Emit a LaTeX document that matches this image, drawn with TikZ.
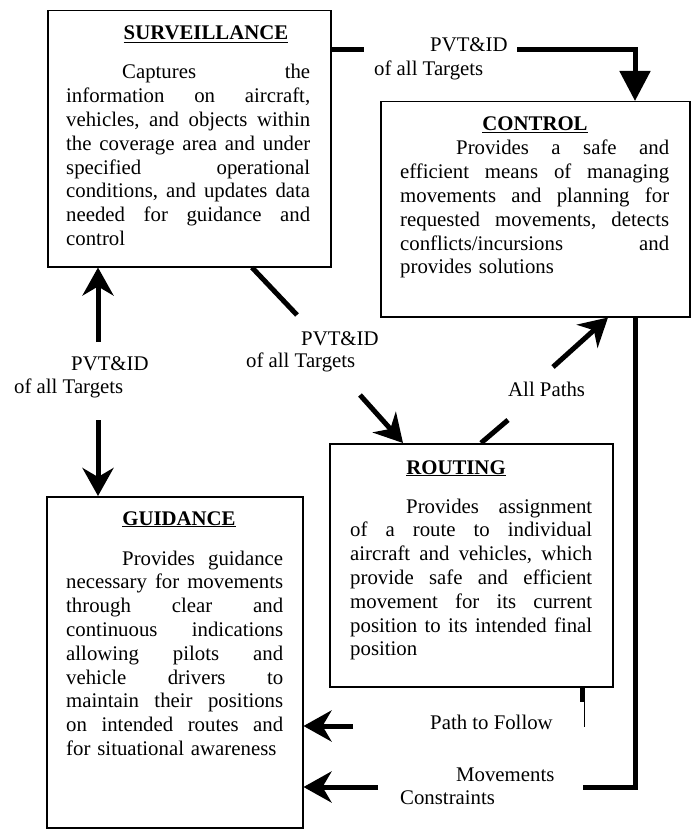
\documentclass[tikz,border=0pt]{standalone}
\usepackage{fontspec}
\setmainfont{Liberation Serif}
\usetikzlibrary{arrows.meta}
\newcommand\bodyfont{\fontsize{20.8}{23.8}\selectfont}
\newdimen\jw
\newcommand\jl[1]{\hbox to \jw{\frenchspacing\spaceskip=0.25em plus 1fil\relax #1}}
\newcommand\jlast[1]{\hbox to \jw{#1\hskip 0pt plus 1fill\relax}}
\newcommand\ind{\hskip56pt\relax}
\tikzset{
  box/.style={draw, line width=1.5pt, inner sep=0pt, anchor=north west},
  body/.style={inner sep=0pt, text width=#1, anchor=base west, font=\bodyfont,
    execute at begin node={\jw=#1\relax}},
  ttl/.style={inner sep=0pt, anchor=base, font=\bodyfont\bfseries},
  lbl/.style={inner sep=0pt, anchor=base west, font=\bodyfont},
  thickln/.style={line width=5pt},
  arr/.style={thickln, -{Stealth[length=28pt,width=31pt,inset=9pt]}},
  tri/.style={thickln, -{Triangle[length=30pt,width=30pt]}},
}
\begin{document}
\begin{tikzpicture}[x=1pt,y=-1pt]
\fill[white] (0,0) rectangle (690,829);
\useasboundingbox (0,0) rectangle (690,829);

% boxes
\node[box, minimum width=283pt, minimum height=256pt] (surv) at (47,10) {};
\node[box, minimum width=309pt, minimum height=215pt] (ctrl) at (380,101) {};
\node[box, minimum width=283pt, minimum height=243pt] (rout) at (329,443) {};
\node[box, minimum width=256pt, minimum height=331pt] (guid) at (46,496) {};

% titles
\node[ttl] (survT) at (206,40) {\underline{SURVEILLANCE}};
\node[ttl] (ctrlT) at (535,131) {\underline{CONTROL}};
\node[ttl] (routT) at (456,474) {\underline{ROUTING}};
\node[ttl] (guidT) at (179,525) {\underline{GUIDANCE}};

% bodies
\node[body=244pt] (survX) at (66,79) {%
\jl{\ind Captures the}
\jl{information on aircraft,}
\jl{vehicles, and objects within}
\jl{the coverage area and under}
\jl{specified operational}
\jl{conditions, and updates data}
\jl{needed for guidance and}
\jlast{control}};
\node[body=269pt] (ctrlX) at (400,155) {%
\jl{\ind Provides a safe and}
\jl{efficient means of managing}
\jl{movements and planning for}
\jl{requested movements, detects}
\jl{conflicts/incursions and}
\jlast{provides solutions}};
\node[body=242pt] (routX) at (350,513) {%
\jl{\ind Provides assignment}
\jl{of a route to individual}
\jl{aircraft and vehicles, which}
\jl{provide safe and efficient}
\jl{movement for its current}
\jl{position to its intended final}
\jlast{position}};
\node[body=217pt] (guidX) at (66,565) {%
\jl{\ind Provides guidance}
\jl{necessary for movements}
\jl{through clear and}
\jl{continuous indications}
\jl{allowing pilots and}
\jl{vehicle drivers to}
\jl{maintain their positions}
\jl{on intended routes and}
\jlast{for situational awareness}};

% connector coordinates
\coordinate (t1) at (364,50);
\coordinate (t2) at (517,50);
\coordinate (t3) at (635,50);
\coordinate (l1) at (98,342);
\coordinate (l2) at (98,420);
\coordinate (m0) at (252,0);
\coordinate (m1) at (297,315);
\coordinate (m2) at (360,395);
\coordinate (m3) at (403,0);
\coordinate (a0) at (481,0);
\coordinate (a1) at (508,420);
\coordinate (a2) at (553,367);
\coordinate (a3) at (608,0);
\coordinate (r0) at (635,787);
\coordinate (r1) at (583,787);
\coordinate (r2) at (378,787);
\coordinate (p0) at (584.5,727);
\coordinate (p1) at (353,726);

% connectors
\draw[thickln] (surv.east |- t1) -- (t1);
\draw[tri] (t2) -- (t3) -- (ctrl.north -| t3);
\draw[arr] (l1) -- (surv.south -| l1);
\draw[arr] (l2) -- (guid.north -| l2);
\draw[thickln] (surv.south -| m0) -- (m1);
\draw[arr] (m2) -- (rout.north -| m3);
\draw[thickln] (rout.north -| a0) -- (a1);
\draw[arr] (a2) -- (ctrl.south -| a3);
\draw[thickln] (ctrl.south -| r0) -- (r0) -- (r1);
\draw[arr] (r2) -- (guid.east |- r2);
\draw[line width=1.5pt] (rout.south -| p0) -- (p0);
\draw[line width=5pt] ([xshift=-2.5pt]rout.south -| p0) -- ++(0,14);
\draw[arr] (p1) -- (guid.east |- p1);

% labels
\node[lbl] (tL1) at (430,52) {PVT\&ID};
\node[lbl] (tL2) at (374,76) {of all Targets};
\node[lbl] (lL1) at (71,370) {PVT\&ID};
\node[lbl] (lL2) at (14,393) {of all Targets};
\node[lbl] (mL1) at (301,345) {PVT\&ID};
\node[lbl] (mL2) at (246,367) {of all Targets};
\node[lbl] (aL) at (508,396) {All Paths};
\node[lbl] (pL) at (430,729) {Path to Follow};
\node[lbl] (cL1) at (456,781) {Movements};
\node[lbl] (cL2) at (400,804) {Constraints};
\end{tikzpicture}
\end{document}
